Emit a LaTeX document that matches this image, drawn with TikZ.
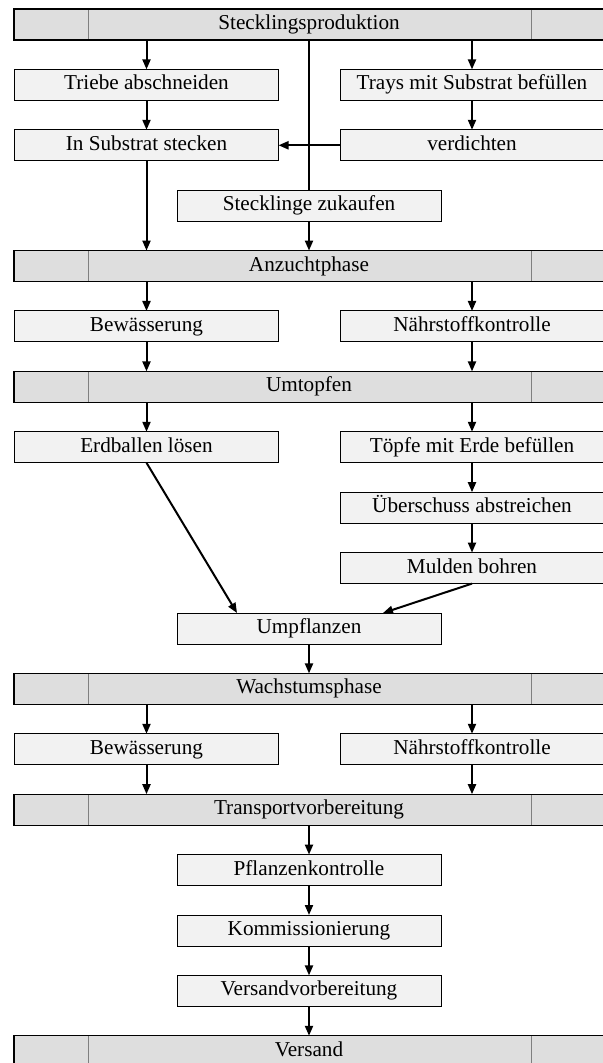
\documentclass[tikz,border=0pt]{standalone}
\usepackage{fontspec}
\setmainfont{Liberation Serif}
\usetikzlibrary{positioning,arrows.meta}
\definecolor{balken}{HTML}{DEDEDE}
\definecolor{kasten}{HTML}{F2F2F2}
\definecolor{teilgrau}{HTML}{7F7F7F}

\begin{document}
\begin{tikzpicture}[
      schritt/.style={draw=black,fill=kasten,line width=0.5pt,inner sep=0pt,outer sep=0pt,
                      minimum width=132pt,minimum height=15.5pt,text height=7.4pt,text depth=2.4pt,
                      font=\fontsize{10.6}{12}\selectfont},
      teiler/.style={draw=teilgrau,line width=0.4pt},
      phase/.style={schritt,fill=balken,line width=0.6pt,minimum width=295pt,
                    path picture={\draw[teiler] ([xshift=37pt]path picture bounding box.north west) -- ([xshift=37pt]path picture bounding box.south west)
                                                ([xshift=-36.5pt]path picture bounding box.north east) -- ([xshift=-36.5pt]path picture bounding box.south east);}},
      pfeil/.style={-{Triangle[length=5pt,width=4pt]},line width=1pt},
      linie/.style={line width=1pt},
      node distance=14.7pt]
    \useasboundingbox (0,0) rectangle (301.5pt,-531.5pt);
    % Stecklingsproduktion
    \node[phase] (sp) at (154.5pt,-12.25pt) {Stecklingsproduktion};
    \node[schritt,below=of sp,xshift=-81.25pt] (tab) {Triebe abschneiden};
    \node[schritt,below=of sp,xshift=81.5pt] (tray) {Trays mit Substrat befüllen};
    \node[schritt,below=of tab] (ins) {In Substrat stecken};
    \node[schritt,below=of tray] (ver) {verdichten};
    \node[schritt,below=of ins,xshift=81.25pt] (zuk) {Stecklinge zukaufen};
    % Anzuchtphase
    \node[phase,below=of zuk] (anz) {Anzuchtphase};
    \node[schritt,below=of anz,xshift=-81.25pt] (bewa) {Bewässerung};
    \node[schritt,below=of anz,xshift=81.5pt] (naeha) {Nährstoffkontrolle};
    % Umtopfen
    \node[phase,below=of bewa,xshift=81.25pt] (umt) {Umtopfen};
    \node[schritt,below=of umt,xshift=-81.25pt] (erd) {Erdballen lösen};
    \node[schritt,below=of umt,xshift=81.5pt] (toepfe) {Töpfe mit Erde befüllen};
    \node[schritt,below=of toepfe] (ueb) {Überschuss abstreichen};
    \node[schritt,below=of ueb] (mul) {Mulden bohren};
    \node[schritt,below=of mul,xshift=-81.5pt] (umpf) {Umpflanzen};
    % Wachstumsphase
    \node[phase,below=of umpf] (wachs) {Wachstumsphase};
    \node[schritt,below=of wachs,xshift=-81.25pt] (bewb) {Bewässerung};
    \node[schritt,below=of wachs,xshift=81.5pt] (naehb) {Nährstoffkontrolle};
    % Transport
    \node[phase,below=of bewb,xshift=81.25pt] (trans) {Transportvorbereitung};
    \node[schritt,below=of trans] (pk) {Pflanzenkontrolle};
    \node[schritt,below=of pk] (kom) {Kommissionierung};
    \node[schritt,below=of kom] (vv) {Versandvorbereitung};
    \node[phase,below=of vv] (versand) {Versand};

    \draw[pfeil] (sp.south -| tab) -- (tab);
    \draw[pfeil] (sp.south -| tray) -- (tray);
    \draw[pfeil] (tab) -- (ins);
    \draw[pfeil] (tray) -- (ver);
    \draw[pfeil] (ver.west) -- (ins.east);
    \draw[linie] (sp.south) -- (zuk.north);
    \draw[pfeil] (zuk) -- (anz);
    \draw[pfeil] (ins) -- (ins |- anz.north);
    \draw[pfeil] (anz.south -| bewa) -- (bewa);
    \draw[pfeil] (anz.south -| naeha) -- (naeha);
    \draw[pfeil] (bewa) -- (bewa |- umt.north);
    \draw[pfeil] (naeha) -- (naeha |- umt.north);
    \draw[pfeil] (umt.south -| erd) -- (erd);
    \draw[pfeil] (umt.south -| toepfe) -- (toepfe);
    \draw[pfeil] (toepfe) -- (ueb);
    \draw[pfeil] (ueb) -- (mul);
    \draw[pfeil] (erd.south) -- ([xshift=-36pt]umpf.north);
    \draw[pfeil] (mul.south) -- ([xshift=37pt]umpf.north);
    \draw[pfeil] (umpf) -- (wachs);
    \draw[pfeil] (wachs.south -| bewb) -- (bewb);
    \draw[pfeil] (wachs.south -| naehb) -- (naehb);
    \draw[pfeil] (bewb) -- (bewb |- trans.north);
    \draw[pfeil] (naehb) -- (naehb |- trans.north);
    \draw[pfeil] (trans) -- (pk);
    \draw[pfeil] (pk) -- (kom);
    \draw[pfeil] (kom) -- (vv);
    \draw[pfeil] (vv) -- (versand);
  \end{tikzpicture}
\end{document}
